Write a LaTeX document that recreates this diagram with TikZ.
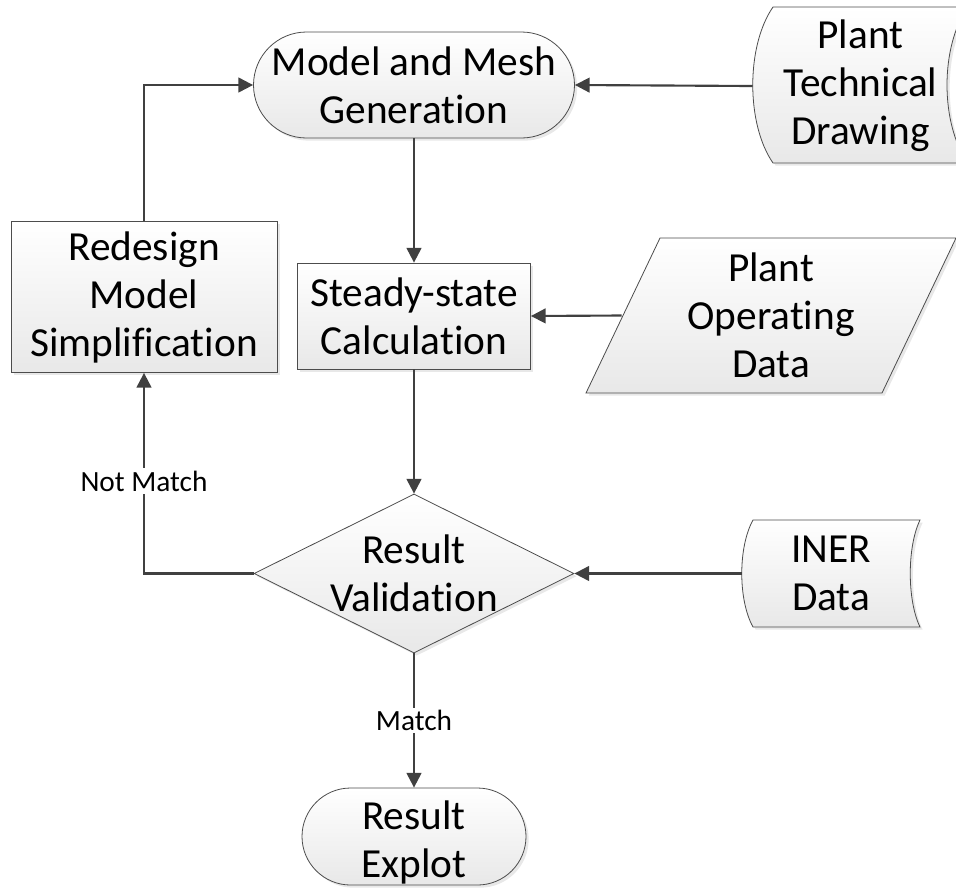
\documentclass[tikz,border=0pt]{standalone}
\usepackage{fontspec}
\setmainfont{Carlito}[Ligatures=CommonOff]
\usetikzlibrary{shapes.geometric,arrows.meta,shadows}

\begin{document}
\begin{tikzpicture}[x=0.75pt,y=-0.75pt]
                        \tikzstyle{shade}=[draw=black!70, line width=0.6pt, top color=white, bottom color=black!9, drop shadow={shadow xshift=2pt, shadow yshift=-2pt, fill=black!18}]
                        \tikzstyle{box}=[shade, rectangle, inner sep=0pt, align=center, font=\fontsize{31}{36}\selectfont]
                        \tikzstyle{txt}=[inner sep=0pt, align=center, font=\fontsize{31}{36}\selectfont]
                        \tikzstyle{lbl}=[inner sep=2pt, fill=white, font=\fontsize{22}{26}\selectfont]
                        \tikzstyle{line}=[draw=black!75, line width=1.6pt, -{Triangle[length=11pt,width=11pt]}]
                        \useasboundingbox (0,0) rectangle (956,894);
                        \clip (0,0) rectangle (956,894);
                        % data shapes
                        \path[shade] (773,7) .. controls (746,46) and (746,124) .. (773,163)
                            -- (968,163) .. controls (940,124) and (940,46) .. (968,7) -- cycle;
                        \path[shade] (660,238) -- (956,238) -- (882,393) -- (586,393) -- cycle;
                        \path[shade] (753,520) .. controls (738,547) and (738,600) .. (753,627)
                            -- (920,627) .. controls (907,600) and (907,547) .. (920,520) -- cycle;
                        % nodes
                        \node[box, rounded corners=39.75pt, minimum width=240.75pt, minimum height=79.5pt] (gen) at (414,85) {Model and Mesh\\Generation};
                        \node[box, minimum width=174.75pt, minimum height=79.5pt] (calc) at (414,316) {Steady-state\\Calculation};
                        \node[box, minimum width=199.5pt, minimum height=113.25pt] (redesign) at (144,297) {Redesign\\Model\\Simplification};
                        \node[shade, diamond, inner sep=0pt, minimum width=240pt, minimum height=119.25pt,
                            label={[txt]center:Result\\Validation}] (valid) at (414,573.5) {};
                        \node[box, rounded corners=36.4pt, minimum width=168pt, minimum height=72.75pt,
                            label={[txt, yshift=-4.5pt]center:Result\\Explot}] (explot) at (414,836.5) {};
                        \node[txt, minimum width=161.25pt, minimum height=117pt] (techdraw) at (860.5,86) {Plant\\Technical\\Drawing};
                        \node[txt, minimum width=223.5pt, minimum height=116pt] (opdata) at (771,315.5) {Plant\\Operating\\Data};
                        \node[txt, minimum width=133.5pt, minimum height=80.25pt] (iner) at (831,573.5) {INER\\Data};
                        % connectors
                        \draw[line] (techdraw.west) -- (gen.east);
                        \draw[line] (gen.south) -- (calc.north);
                        \draw[line] (opdata.west) -- (calc.east);
                        \draw[line] (calc.south) -- (valid.north);
                        \draw[line] (iner.west) -- (valid.east);
                        \draw[line] (valid.west) -| node[lbl, pos=0.73] {Not Match} (redesign.south);
                        \draw[line] (redesign.north) |- (gen.west);
                        \draw[line] (valid.south) -- node[lbl] {Match} (explot.north);
                    \end{tikzpicture}
\end{document}
